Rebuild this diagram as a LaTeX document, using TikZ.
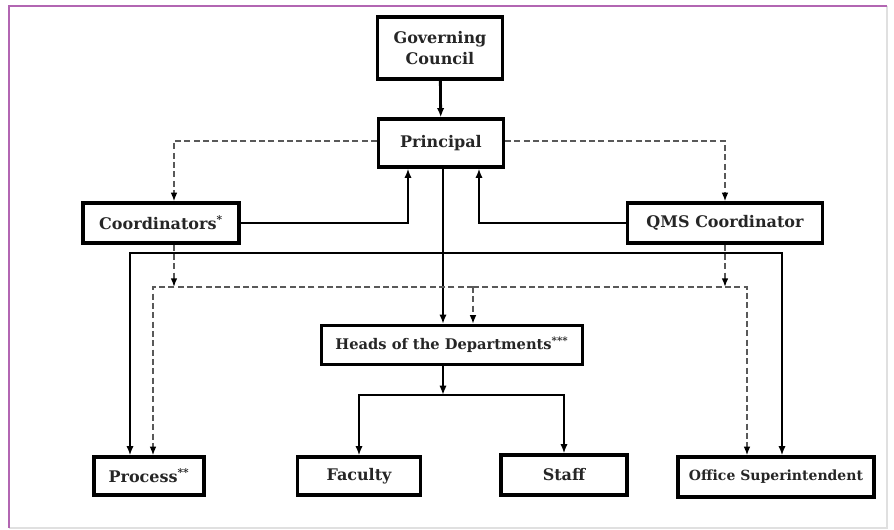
\documentclass[tikz,border=0pt]{standalone}
\usepackage{fontspec}
\setmainfont{DejaVu Serif}
\usepackage{tikz}
\usetikzlibrary{calc,arrows.meta}

\begin{document}
\begin{tikzpicture}[x=0.75pt, y=-0.75pt,
		box/.style={draw=black, line width=2.4pt, fill=white, inner sep=0pt, align=center,
			font=\fontsize{12}{16}\selectfont\bfseries, text=black!85},
		solidline/.style={line width=2.1pt, -{Latex[length=7pt,width=5.5pt]}},
		dashline/.style={line width=1.2pt, color=black!65, dash pattern=on 4.5pt off 2.5pt,
			-{Latex[length=6.5pt,width=5pt,color=black]}}]
			%%%%% START %%%%%
			
			\useasboundingbox (0, 0) rectangle (894, 530);
			\fill[white] (0, 0) rectangle (894, 530);
			\draw[line width=1pt, color=black!12] (887, 6) -- (887, 528) -- (9, 528);
			\draw[line width=1.3pt, color=violet!60] (9, 528) -- (9, 6) -- (887, 6);
			
			\node[box, minimum width=125*0.75pt, minimum height=62*0.75pt] (gov) at (440, 48) {Governing\\Council};
			\node[box, minimum width=125*0.75pt, minimum height=48*0.75pt] (prin) at (441, 143) {Principal};
			\node[box, minimum width=156*0.75pt, minimum height=40*0.75pt] (coord) at (161, 223) {Coordinators\textsuperscript{*}};
			\node[box, minimum width=195*0.75pt, minimum height=40*0.75pt] (qms) at (725, 223) {QMS Coordinator};
			\node[box, minimum width=261*0.75pt, minimum height=39*0.75pt, font=\fontsize{11}{14}\selectfont\bfseries] (heads) at (452, 345) {Heads of the Departments\textsuperscript{***}};
			\node[box, minimum width=110*0.75pt, minimum height=38*0.75pt] (proc) at (149, 476) {Process\textsuperscript{**}};
			\node[box, minimum width=123*0.75pt, minimum height=38*0.75pt] (fac) at (359, 476) {Faculty};
			\node[box, minimum width=126*0.75pt, minimum height=40*0.75pt] (staff) at (564, 475) {Staff};
			\node[box, minimum width=196*0.75pt, minimum height=40*0.75pt, font=\fontsize{10.5}{14}\selectfont\bfseries] (office) at (776, 477) {Office Superintendent};
			
			% junctions
			\coordinate (pdown) at ($(prin.south)+(2, 0)$);
			\coordinate (pleft) at ($(prin.south)+(-33, 0)$);
			\coordinate (pright) at ($(prin.south)+(38, 0)$);
			\coordinate (bus) at (130, 253);
			\coordinate (dbus) at (153, 287);
			\coordinate (hbus) at (360, 395);
			\coordinate (procS) at ($(proc.north)+(-19, 0)$);
			\coordinate (procD) at ($(proc.north)+(4, 0)$);
			\coordinate (offS) at ($(office.north)+(6, 0)$);
			\coordinate (offD) at ($(office.north)+(-29, 0)$);
			\coordinate (headD) at ($(heads.north)+(21, 0)$);
			\coordinate (coordN) at ($(coord.north)+(13, 0)$);
			\coordinate (coordS) at ($(coord.south)+(13, 0)$);
			\coordinate (prinW) at ($(prin.west)+(0, -2)$);
			\coordinate (prinE) at ($(prin.east)+(0, -2)$);
			
			% solid lines
			\draw[solidline] (gov) -- (prin);
			\draw[solidline] (coord.east) -| (pleft);
			\draw[solidline] (qms.west) -| (pright);
			\draw[solidline] (pdown) -- (pdown |- heads.north);
			\draw[solidline] (pdown |- bus) -| (procS);
			\draw[solidline] (pdown |- bus) -| (offS);
			
			\draw[solidline] (pdown |- heads.south) -- (pdown |- hbus);
			\draw[solidline] (pdown |- hbus) -| (fac.north);
			\draw[solidline] (pdown |- hbus) -| (staff.north);
			
			% dashed lines
			\draw[dashline] (prinW) -| (coordN);
			\draw[dashline] (prinE) -| (qms.north);
			\draw[dashline] (coordS) -- (coordS |- dbus);
			\draw[dashline] (qms.south) -- (qms.south |- dbus);
			\draw[dashline] (headD |- dbus) -| (procD);
			\draw[dashline] (headD |- dbus) -| (offD);
			\draw[dashline] (headD |- dbus) -- (headD);
			
			%%%%% END %%%%%
\end{tikzpicture}
\end{document}
